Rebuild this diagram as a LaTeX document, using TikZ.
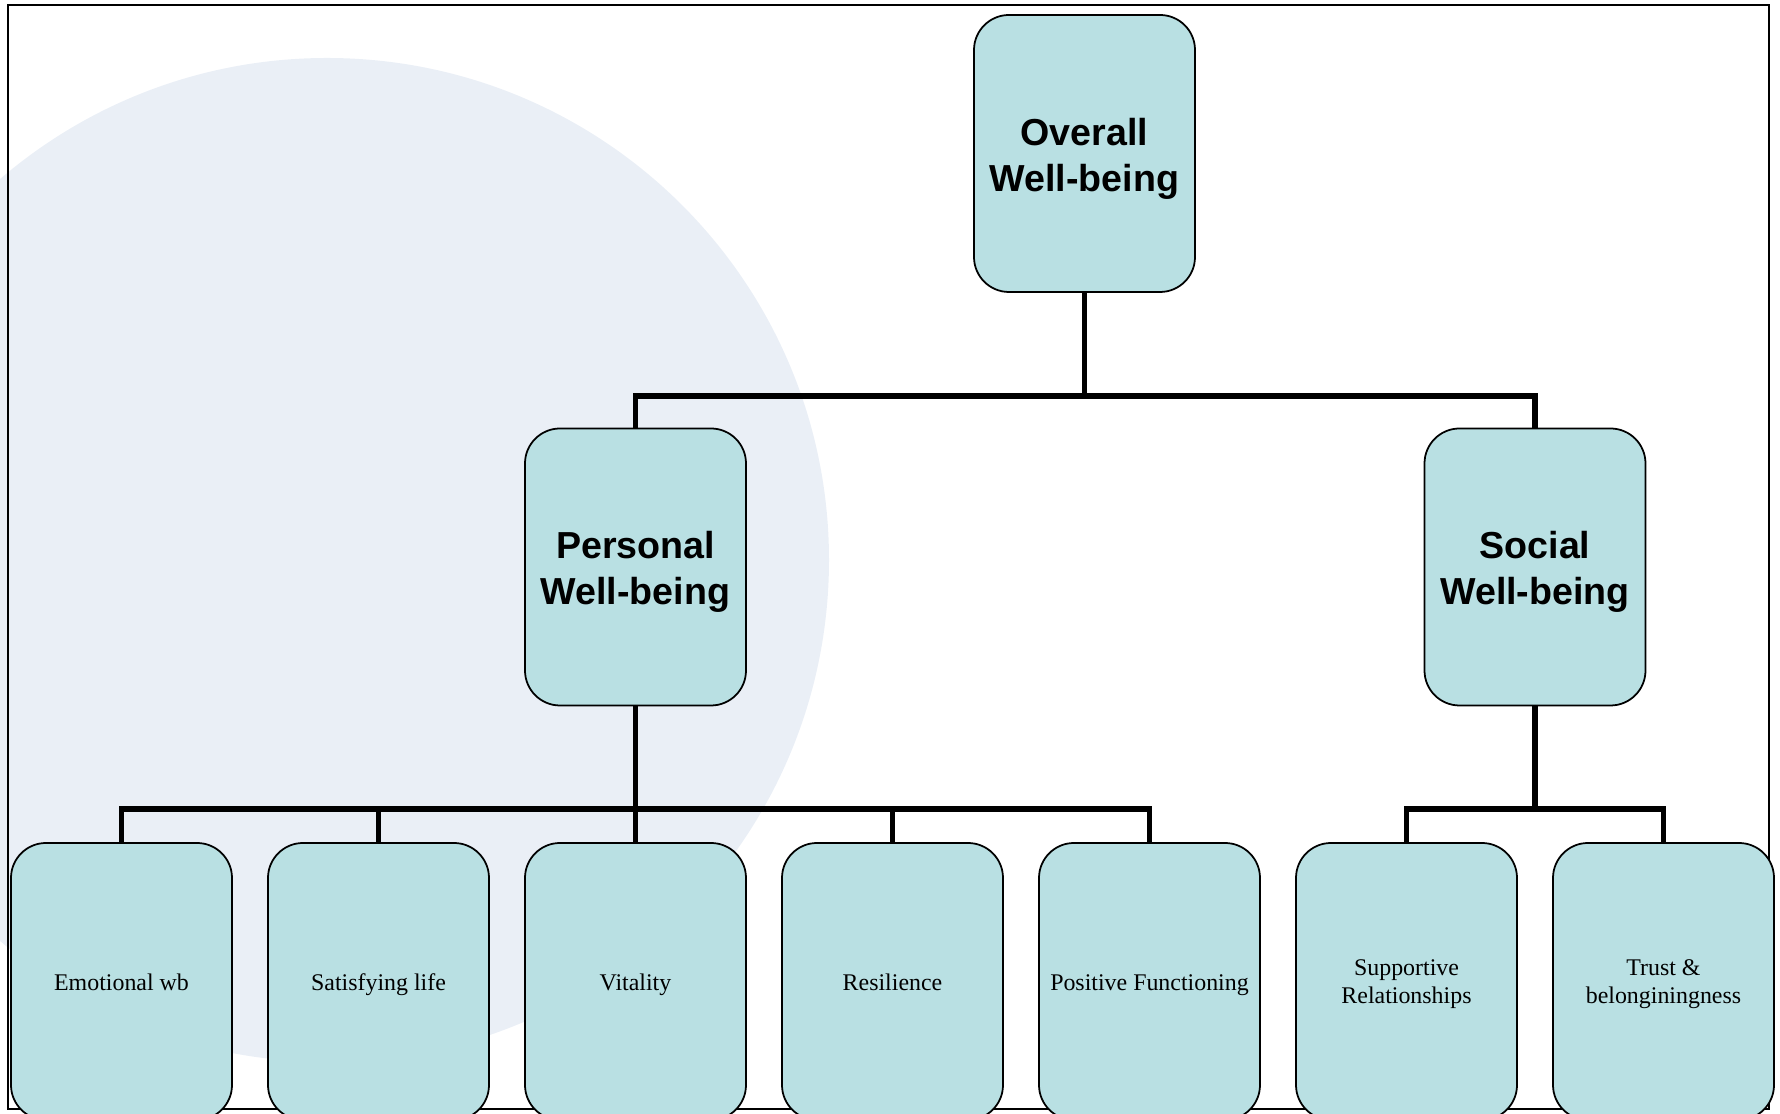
\documentclass[tikz,border=0pt]{standalone}
\usepackage{fontspec}
\setmainfont{Liberation Serif}
\newfontfamily\headfont{Liberation Sans}
\definecolor{boxfill}{RGB}{185,224,227}
\definecolor{discfill}{RGB}{234,239,246}
\newcommand{\hdstrut}{\rule{0pt}{12.4pt}}
\newcommand{\lfstrut}{\rule{0pt}{7.0pt}}
\tikzset{
	wbbox/.style={draw=black,line width=0.5pt,fill=boxfill,rounded corners=0.35cm,minimum width=2.21cm,minimum height=2.77cm,inner sep=0pt,align=center},
	headbox/.style={wbbox,font=\headfont\bfseries\fontsize{10.7}{13.15}\selectfont,execute at end node=\rule[-3.95pt]{0pt}{0pt}},
	leafbox/.style={wbbox,font=\fontsize{6.8}{8.1}\selectfont,execute at begin node=\rule{0pt}{7.7pt},execute at end node=\rule[-2.43pt]{0pt}{0pt}},
	conn/.style={line width=1.6pt}
}
\begin{document}
\begin{tikzpicture}[scale=1,auto=center]
			\useasboundingbox (0,0) rectangle (17.8,11.14);
			\fill[discfill] (3.27,5.54) circle (5.02);
			\draw[line width=0.4pt] (0.08,0.05) rectangle (17.69,11.09);
			\node[headbox] (overall) at (10.845,9.605) {\hdstrut Overall\\Well-being};
			\node[headbox] (personal) at (6.355,5.47) {\hdstrut Personal\\Well-being};
			\node[headbox] (social) at (15.35,5.47) {\hdstrut Social\\Well-being};
			\node[leafbox] (emo) at (1.215,1.325) {Emotional wb};
			\node[leafbox] (sat) at (3.785,1.325) {Satisfying life};
			\node[leafbox] (vit) at (6.355,1.325) {Vitality};
			\node[leafbox] (res) at (8.925,1.325) {Resilience};
			\node[leafbox] (pos) at (11.495,1.325) {Positive Functioning};
			\node[leafbox] (sup) at (14.065,1.325) {\lfstrut Supportive\\Relationships};
			\node[leafbox] (trust) at (16.635,1.325) {\lfstrut Trust \&\\belonginingness};
			\coordinate (jtop) at (10.845,7.18);
			\coordinate (jpers) at (6.355,3.05);
			\coordinate (jsoc) at (15.35,3.05);
			\draw[conn] (overall.south) -- (jtop);
			\draw[conn] (personal.north) |- (jtop);
			\draw[conn] (social.north) |- (jtop);
			\draw[conn] (personal.south) -- (vit.north);
			\draw[conn] (emo.north) |- (jpers);
			\draw[conn] (sat.north) |- (jpers);
			\draw[conn] (res.north) |- (jpers);
			\draw[conn] (pos.north) |- (jpers);
			\draw[conn] (social.south) -- (jsoc);
			\draw[conn] (sup.north) |- (jsoc);
			\draw[conn] (trust.north) |- (jsoc);
		\end{tikzpicture}
\end{document}
